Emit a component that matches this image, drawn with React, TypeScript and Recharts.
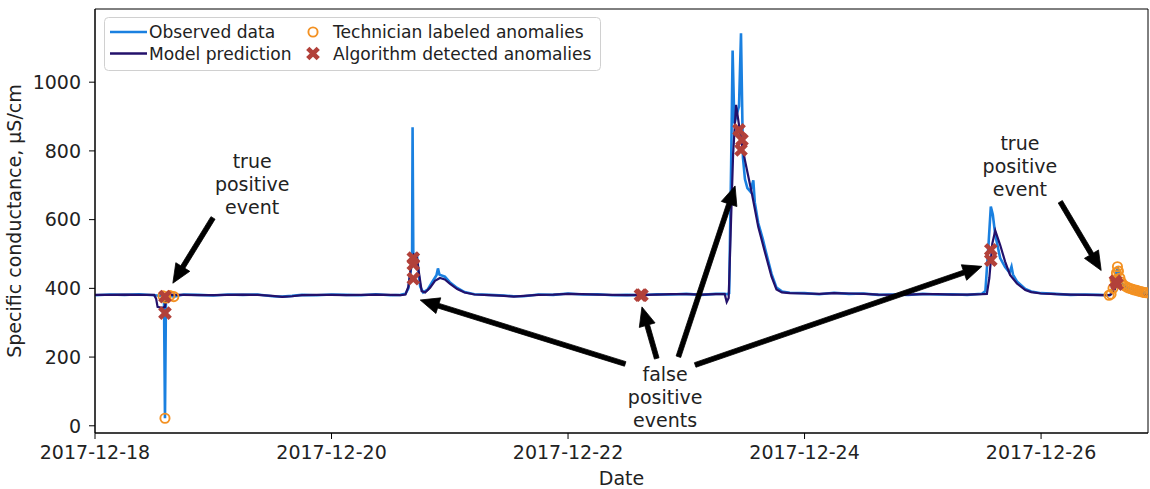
import React from "react";
import {
  ComposedChart,
  Line,
  Scatter,
  XAxis,
  YAxis,
  ReferenceLine,
  ReferenceDot,
  ReferenceArea,
} from "recharts";

// time is in hours since 2017-12-18 00:00
const obsHours = [
  0, 3, 6, 9, 12, 13.8, 14.0, 14.2, 14.4, 15.2, 16.0, 18, 21, 24, 27, 30, 33, 36, 38, 40, 42, 45, 48, 51, 54, 57,
  60, 62, 63, 63.6, 64.1, 64.35, 64.45, 64.6, 65.0, 65.3, 65.6, 66.0, 66.6, 67.5, 68.5, 69.3, 69.6, 69.9, 71, 72,
  73.5, 75, 77, 80, 83, 85, 87, 90, 93, 96, 99, 102, 105, 108, 111, 114, 117, 120, 123, 126, 127.8, 128.3, 128.7,
  129.1, 129.4, 129.75, 130.2, 130.7, 131.1, 131.5, 131.9, 132.4, 133.0, 133.6, 133.9, 134.6, 135.5, 136, 137.3,
  138.3, 139.4, 141, 144, 147, 150, 153, 156, 159, 162, 165, 168, 171, 174, 177, 180, 180.7, 181.3, 181.8, 182.2,
  182.7, 183.7, 184.7, 185.6, 186.0, 186.3, 187.1, 188.8, 190, 192, 195, 198, 201, 204, 205.8, 206.2, 206.6, 207.0,
  207.3, 207.5, 207.7, 208.0, 208.3, 208.6, 209.0, 209.4, 209.8, 210.2, 210.6, 211.0, 211.4, 211.8, 212.2, 212.6,
  213.0, 213.4,
];
const obsValues = [
  380, 382, 381, 383, 380, 378, 376, 22, 372, 379, 376, 382, 381, 379, 382, 381, 382, 377, 376, 378, 381, 380, 382,
  381, 380, 383, 380, 381, 384, 400, 455, 480, 869, 492, 462, 505, 452, 405, 388, 396, 420, 438, 458, 440, 434, 418,
  401, 389, 383, 381, 379, 377, 377, 382, 381, 385, 382, 383, 380, 381, 380, 383, 382, 384, 381, 384, 384, 383, 386,
  760, 1092, 880, 905, 930, 1142, 780, 718, 692, 682, 714, 650, 590, 545, 515, 442, 402, 391, 387, 386, 383, 387,
  384, 385, 381, 382, 381, 384, 382, 383, 381, 384, 392, 520, 638, 615, 556, 488, 462, 446, 463, 440, 420, 398, 391,
  386, 384, 381, 382, 381, 380, 383, 400, 425, 445, 463, 450, 430, 418, 411, 407, 404, 401, 399, 397, 395, 394, 392,
  391, 389, 388, 387,
];

const modelHours = [
  0, 3, 6, 9, 12, 12.4, 12.7, 13.5, 14.2, 14.5, 15, 18, 21, 24, 27, 30, 33, 36, 38, 40, 42, 45, 48, 51, 54, 57, 60,
  62, 63, 63.6, 64.2, 64.7, 65.3, 65.8, 66.3, 67, 68, 69, 70, 71, 72, 73.5, 75, 77, 80, 83, 85, 87, 90, 93, 96, 99,
  102, 105, 108, 111, 114, 117, 120, 123, 126, 127.8, 128.2, 128.6, 129.0, 129.5, 130.1, 130.7, 131.4, 131.9, 133.3,
  134.6, 136, 137.3, 138.3, 139.4, 141, 144, 147, 150, 153, 156, 159, 162, 165, 168, 171, 174, 177, 180, 181, 181.5,
  182.1, 182.7, 183.7, 184.7, 185.7, 187.1, 188.8, 190, 192, 195, 198, 201, 204, 206, 206.8, 207.6, 208.5, 210, 212,
  213.7,
];
const modelValues = [
  381, 381, 382, 381, 381, 370, 346, 343, 346, 377, 382, 381, 380, 380, 381, 382, 381, 378, 375, 377, 380, 381, 381,
  380, 381, 382, 381, 380, 382, 405, 470, 498, 490, 440, 392, 388, 402, 422, 430, 426, 414, 398, 388, 382, 380, 378,
  376, 378, 381, 382, 384, 383, 382, 381, 380, 381, 382, 383, 383, 382, 383, 383, 360, 372, 560, 790, 934, 875, 810,
  773, 677, 579, 503, 434, 397, 388, 386, 385, 384, 386, 385, 384, 382, 381, 382, 383, 383, 382, 382, 383, 384, 430,
  530, 568, 526, 478, 439, 414, 395, 389, 385, 383, 382, 381, 380, 380, 392, 418, 404, 390, 383, 379,
];

const techHours = [
  14.2, 13.8, 14.4, 15.2, 16.0, 205.8, 206.2, 206.6, 207.0, 207.3, 207.5, 207.7, 208.0, 208.3, 208.6, 209.0, 209.4,
  209.8, 210.2, 210.6, 211.0, 211.4, 211.8, 212.2, 212.6, 213.0, 213.4,
];
const techValues = [
  22, 378, 372, 379, 376, 380, 383, 400, 425, 445, 463, 450, 430, 418, 411, 407, 404, 401, 399, 397, 395, 394, 392,
  391, 389, 388, 387,
];

const algoHours = [14.2, 14.2, 64.6, 64.6, 64.6, 110.7, 111.0, 130.7, 131.3, 131.1, 181.8, 181.8, 207.1, 207.4];
const algoValues = [376, 328, 488, 470, 428, 380, 380, 861, 832, 803, 512, 482, 420, 412];

const xTicks = [0, 48, 96, 144, 192];
const xTickLabels = ["2017-12-18", "2017-12-20", "2017-12-22", "2017-12-24", "2017-12-26"];
const yTicks = [0, 200, 400, 600, 800, 1000];

// annotation arrows: tail -> tip, in data units
const arrows = [
  { from: [23.95, 605], to: [15.8, 415] },
  { from: [107.6, 180], to: [66.0, 366] },
  { from: [114.0, 196], to: [111.0, 346] },
  { from: [118.4, 201], to: [129.9, 698] },
  { from: [121.8, 177], to: [180.0, 464] },
  { from: [195.9, 652], to: [204.2, 452] },
];
const notes = [
  { at: [31.9, 704], lines: ["true", "positive", "event"] },
  { at: [115.7, 84], lines: ["false", "positive", "events"] },
  { at: [187.7, 756], lines: ["true", "positive", "event"] },
];

const FONT = "DejaVu Sans, sans-serif";
const FS = 19;
const OBS = "#1a80e0";
const MODEL = "#23116b";
const TECH = "#f39122";
const ALGO = "#b2413a";

const toPoints = (hours: number[], values: number[]) => hours.map((t, i) => ({ t, v: values[i] }));
const obsData = toPoints(obsHours, obsValues);
const modelData = toPoints(modelHours, modelValues);
const techData = toPoints(techHours, techValues);
const algoData = toPoints(algoHours, algoValues);

const xPath = (cx: number, cy: number, s: number, a: number) => {
  const pts = [
    [-a, -s], [a, -s], [a, -a], [s, -a], [s, a], [a, a],
    [a, s], [-a, s], [-a, a], [-s, a], [-s, -a], [-a, -a],
  ];
  const c = Math.SQRT1_2;
  return pts
    .map(([x, y]) => `${(cx + (x - y) * c).toFixed(2)},${(cy + (x + y) * c).toFixed(2)}`)
    .join(" ");
};

const AlgoMarker = (props: any) => {
  const { cx, cy } = props;
  if (cx == null || cy == null) return <g />;
  return <polygon points={xPath(cx, cy, 7.4, 2.3)} fill={ALGO} />;
};

const TechMarker = (props: any) => {
  const { cx, cy } = props;
  if (cx == null || cy == null) return <g />;
  return <circle cx={cx} cy={cy} r={4.6} fill="none" stroke={TECH} strokeWidth={1.9} />;
};

const Arrow = (props: any) => {
  const { x1, y1, x2, y2 } = props;
  if ([x1, y1, x2, y2].some((v) => v == null || isNaN(v))) return <g />;
  const dx = x2 - x1;
  const dy = y2 - y1;
  const len = Math.hypot(dx, dy);
  const ux = dx / len;
  const uy = dy / len;
  const nx = -uy;
  const ny = ux;
  const w = 2.4;
  const hw = 8.2;
  const hl = 19;
  const bx = x2 - ux * hl;
  const by = y2 - uy * hl;
  const pts = [
    [x1 + nx * w, y1 + ny * w],
    [bx + nx * w, by + ny * w],
    [bx + nx * hw, by + ny * hw],
    [x2, y2],
    [bx - nx * hw, by - ny * hw],
    [bx - nx * w, by - ny * w],
    [x1 - nx * w, y1 - ny * w],
  ];
  return <polygon points={pts.map((p) => p.join(",")).join(" ")} fill="#000" stroke="#000" strokeWidth={0.8} />;
};

const noteShape = (lines: string[]) => (props: any) => {
  const { cx, cy } = props;
  if (cx == null || cy == null) return <g />;
  return (
    <text x={cx} y={cy} textAnchor="middle" fontFamily={FONT} fontSize={FS} fill="#222">
      {lines.map((ln, i) => (
        <tspan key={i} x={cx} y={cy + (i - 1) * 22.8} dy="0.36em">
          {ln}
        </tspan>
      ))}
    </text>
  );
};

const LegendBox = () => (
  <svg width={500} height={58} style={{ position: "absolute", left: 104, top: 17 }}>
    <rect x={0.5} y={0.5} width={496} height={53} rx={4} fill="rgba(255,255,255,0.8)" stroke="#d0d0d0" />
    <line x1={6} y1={15} x2={43} y2={15} stroke={OBS} strokeWidth={2.4} />
    <line x1={6} y1={36.5} x2={43} y2={36.5} stroke={MODEL} strokeWidth={2.4} />
    <circle cx={209} cy={15} r={4.6} fill="none" stroke={TECH} strokeWidth={1.9} />
    <polygon points={xPath(209, 36.5, 7.4, 2.3)} fill={ALGO} />
    <g fontFamily={FONT} fontSize={17.1} fill="#222">
      <text x={45} y={15} dy="0.36em">Observed data</text>
      <text x={45} y={36.5} dy="0.36em">Model prediction</text>
      <text x={229} y={15} dy="0.36em">Technician labeled anomalies</text>
      <text x={229} y={36.5} dy="0.36em">Algorithm detected anomalies</text>
    </g>
  </svg>
);

const X_DOMAIN = [0, 213.7];
const Y_DOMAIN = [-21, 1213];

export default function App() {
  const tickStyle = { fontFamily: FONT, fontSize: FS, fill: "#222" };
  return (
    <div style={{ position: "absolute", left: 0, top: 0, width: 1150, height: 489, background: "#fff" }}>
      <ComposedChart width={1150} height={489} margin={{ top: 9, right: 2, bottom: 0, left: 0 }}>
        <XAxis
          type="number"
          dataKey="t"
          domain={X_DOMAIN}
          allowDataOverflow
          ticks={xTicks}
          tickFormatter={(t: number) => xTickLabels[xTicks.indexOf(t)] ?? ""}
          height={56}
          tickSize={6}
          tickMargin={7}
          tick={tickStyle}
          stroke="#000"
          label={() => (
            <text x={621.5} y={485} textAnchor="middle" fontFamily={FONT} fontSize={FS} fill="#222">
              Date
            </text>
          )}
        />
        <YAxis
          type="number"
          dataKey="v"
          domain={Y_DOMAIN}
          allowDataOverflow
          ticks={yTicks}
          width={95}
          tickSize={6}
          tickMargin={8}
          tick={tickStyle}
          stroke="#000"
          label={() => (
            <text
              transform="translate(21,221) rotate(-90)"
              textAnchor="middle"
              fontFamily={FONT}
              fontSize={FS}
              fill="#222"
            >
              Specific conductance, µS/cm
            </text>
          )}
        />
        <ReferenceArea
          x1={X_DOMAIN[0]}
          x2={X_DOMAIN[1]}
          y1={Y_DOMAIN[0]}
          y2={Y_DOMAIN[1]}
          fill="none"
          stroke="#000"
          strokeWidth={1}
          ifOverflow="visible"
        />
        <Line
          data={obsData}
          dataKey="v"
          type="linear"
          stroke={OBS}
          strokeWidth={2.6}
          dot={false}
          activeDot={false}
          isAnimationActive={false}
        />
        <Line
          data={modelData}
          dataKey="v"
          type="linear"
          stroke={MODEL}
          strokeWidth={2.2}
          dot={false}
          activeDot={false}
          isAnimationActive={false}
        />
        <Scatter data={techData} dataKey="v" shape={TechMarker} isAnimationActive={false} />
        <Scatter data={algoData} dataKey="v" shape={AlgoMarker} isAnimationActive={false} />
        {arrows.map((a, i) => (
          <ReferenceLine
            key={`arrow-${i}`}
            segment={[
              { x: a.from[0], y: a.from[1] },
              { x: a.to[0], y: a.to[1] },
            ]}
            shape={Arrow}
            ifOverflow="visible"
          />
        ))}
        {notes.map((n, i) => (
          <ReferenceDot
            key={`note-${i}`}
            x={n.at[0]}
            y={n.at[1]}
            r={0}
            shape={noteShape(n.lines)}
            ifOverflow="visible"
          />
        ))}
      </ComposedChart>
      <LegendBox />
    </div>
  );
}
